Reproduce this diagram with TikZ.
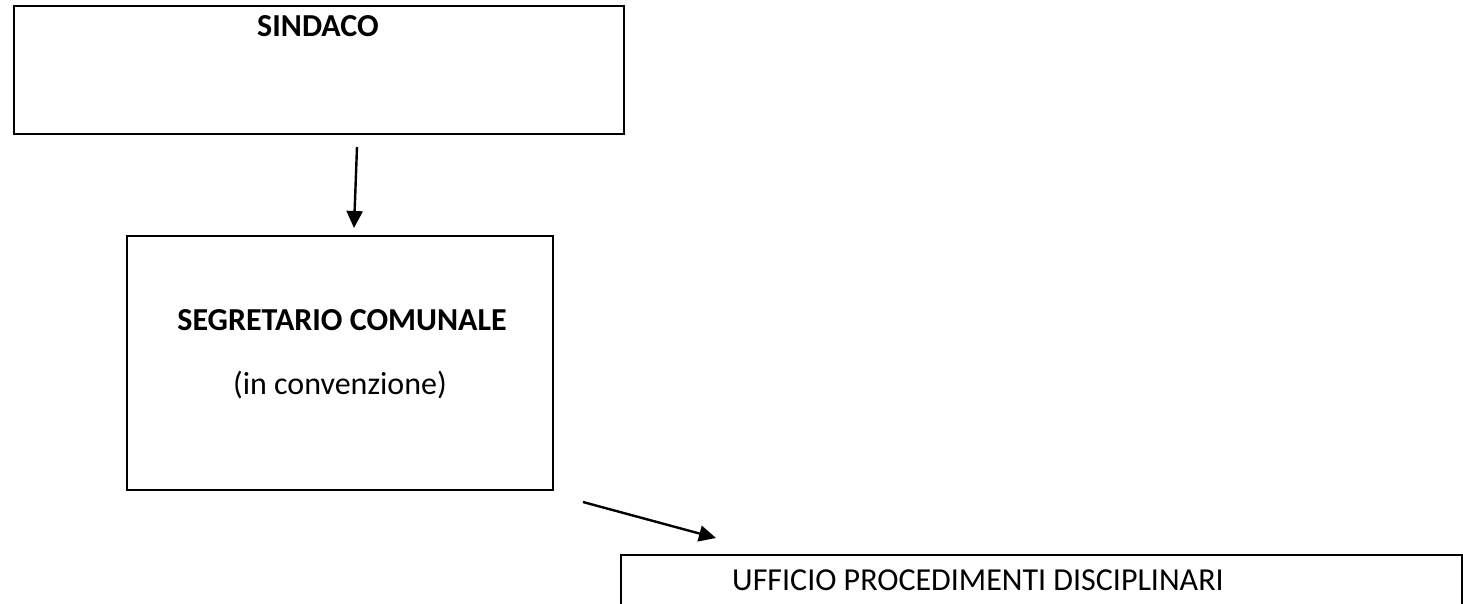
\documentclass[tikz,border=0pt]{standalone}
\usepackage{fontspec}
\setmainfont{Carlito}
\usetikzlibrary{arrows.meta}
\tikzset{
  box/.style={draw=black, line width=2pt, rectangle, inner sep=0pt},
  lbl/.style={inner sep=0pt, font=\fontsize{32}{38}\selectfont},
  blbl/.style={inner sep=0pt, font=\fontsize{32}{38}\selectfont\bfseries},
  conn/.style={line width=2.4pt, -{Triangle[length=17pt,width=16pt]}}
}
\begin{document}
\begin{tikzpicture}[x=1pt,y=-1pt]
\clip (0,0) rectangle (1463,604);
% boxes
\node[box, minimum width=610pt, minimum height=128pt] (sindaco) at (319,70) {};
\node[box, minimum width=426pt, minimum height=254pt] (segretario) at (340,363) {};
\node[box, minimum width=841pt, minimum height=90pt] (ufficio) at (1041.5,600) {};
% texts
\node[blbl, anchor=base] (tsindaco) at (318,37) {SINDACO};
\node[blbl, anchor=base] (tsegr) at (342,330) {SEGRETARIO COMUNALE};
\node[lbl, anchor=base] (tconv) at (340,394) {(in convenzione)};
\node[lbl, anchor=base west] (tuff) at (732,590) {UFFICIO PROCEDIMENTI DISCIPLINARI};
% connectors
\coordinate (a1s) at (357,147);
\coordinate (a1e) at (354,228);
\coordinate (a2s) at (583,502);
\coordinate (a2e) at (716,538);
\draw[conn] (a1s) -- (a1e);
\draw[conn] (a2s) -- (a2e);
\end{tikzpicture}
\end{document}
